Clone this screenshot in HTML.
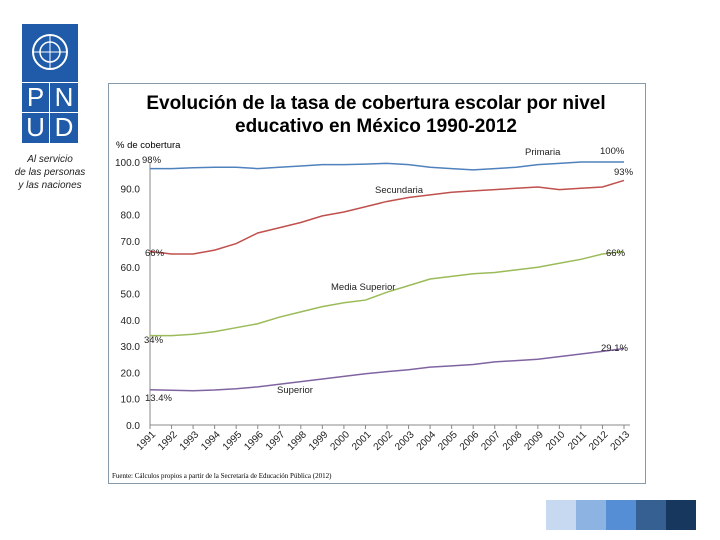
<!DOCTYPE html>
<html><head><meta charset="utf-8"><style>
body{margin:0;width:720px;height:540px;background:#fff;position:relative;overflow:hidden;font-family:"Liberation Sans",sans-serif}
.abs{position:absolute}
</style></head><body>
<div class="abs" style="left:22px;top:24px;width:56px;height:119px;background:#1f5ba8">
  <svg width="56" height="56"><circle cx="28" cy="28" r="17" fill="none" stroke="#fff" stroke-width="2"/><circle cx="28" cy="28" r="10" fill="none" stroke="#fff" stroke-width="1.5"/><line x1="11" y1="28" x2="45" y2="28" stroke="#fff"/><line x1="28" y1="11" x2="28" y2="45" stroke="#fff"/></svg>
  <div style="position:absolute;left:0;top:58px;width:56px;height:1px;background:#fff"></div>
  <div style="position:absolute;left:0;top:88px;width:56px;height:1px;background:#fff"></div>
  <div style="position:absolute;left:27px;top:58px;width:1px;height:61px;background:#fff"></div>
  <div style="position:absolute;left:0;top:59px;width:27px;text-align:center;color:#fff;font-size:26px;line-height:29px">P</div>
  <div style="position:absolute;left:28px;top:59px;width:28px;text-align:center;color:#fff;font-size:26px;line-height:29px">N</div>
  <div style="position:absolute;left:0;top:89px;width:27px;text-align:center;color:#fff;font-size:26px;line-height:29px">U</div>
  <div style="position:absolute;left:28px;top:89px;width:28px;text-align:center;color:#fff;font-size:26px;line-height:29px">D</div>
</div>
<div class="abs" style="left:5px;top:153px;width:90px;text-align:center;font-style:italic;font-size:10px;line-height:13px;color:#222">Al servicio<br>de las personas<br>y las naciones</div>

<svg class="abs" style="left:0;top:0" width="720" height="540" id="chart">
<rect x="108.5" y="83.5" width="537" height="400" fill="#fff" stroke="#8899aa"/>
<text x="376" y="109" text-anchor="middle" font-size="19" font-weight="bold">Evolución  de la tasa de cobertura  escolar  por nivel</text>
<text x="376" y="132" text-anchor="middle" font-size="19" font-weight="bold">educativo  en México  1990-2012</text>
<text x="116" y="148" font-size="9.5">% de cobertura</text>
<text x="112" y="478" font-size="7" font-family="Liberation Serif">Fuente: Cálculos propios a partir de la Secretaría de Educación Pública (2012)</text>
<g id="axes"></g><g id="series"></g><g id="labels"></g>
</svg>
<div class="abs" style="left:546px;top:500px;height:30px;display:flex">
<div style="width:30px;height:30px;background:#c6d9f1"></div><div style="width:30px;height:30px;background:#8db3e2"></div><div style="width:30px;height:30px;background:#558ed5"></div><div style="width:30px;height:30px;background:#366092"></div><div style="width:30px;height:30px;background:#17375e"></div>
</div>
<script>
const years=["1991","1992","1993","1994","1995","1996","1997","1998","1999","2000","2001","2002","2003","2004","2005","2006","2007","2008","2009","2010","2011","2012","2013"];
const yTicks=[0,10,20,30,40,50,60,70,80,90,100];
const primaria=[97.5,97.5,97.8,98,98,97.5,98,98.5,99,99,99.2,99.5,99,98,97.5,97,97.5,98,99,99.5,100,100,100];
const secundaria=[66,65,65,66.5,69,73,75,77,79.5,81,83,85,86.5,87.5,88.5,89,89.5,90,90.5,89.5,90,90.5,93];
const mediaSuperior=[34,34,34.5,35.5,37,38.5,41,43,45,46.5,47.5,50.5,53,55.5,56.5,57.5,58,59,60,61.5,63,65,66];
const superior=[13.4,13.2,13,13.3,13.8,14.5,15.5,16.5,17.5,18.5,19.5,20.3,21,22,22.5,23,24,24.5,25,26,27,28,29.1];
const NS="http://www.w3.org/2000/svg";
const x0=150,x1=624,y0=425,y100=162;
const xs=i=>x0+i*(x1-x0)/(years.length-1);
const ys=v=>y0+(y100-y0)*v/100;
function mk(t,a,p){const e=document.createElementNS(NS,t);for(const k in a)e.setAttribute(k,a[k]);document.getElementById(p).appendChild(e);return e;}
let e=mk('line',{x1:x0,y1:ys(0),x2:x1+6,y2:ys(0),stroke:'#888'},'axes');


e=mk('line',{x1:x0,y1:ys(0),x2:x0,y2:ys(100),stroke:'#888'},'axes');


yTicks.forEach(v=>{const t=mk('text',{x:x0-10,y:ys(v)+4,'text-anchor':'end','font-size':'10',fill:'#222'},'axes');t.textContent=v.toFixed(1);

});
years.forEach((y,i)=>{const x=xs(i);const t=mk('text',{x:x+6,y:ys(0)+10,'text-anchor':'end','font-size':'10',fill:'#222',transform:`rotate(-45 ${x+6} ${ys(0)+10})`},'axes');t.textContent=y;


mk('line',{x1:x,y1:ys(0),x2:x,y2:ys(0)+4,stroke:'#888'},'axes');});
function series(d,c,n){const p=mk('polyline',{points:d.map((v,i)=>xs(i)+','+ys(v)).join(' '),fill:'none',stroke:c,'stroke-width':'1.5'},'series');

}
series(primaria,'#4f81bd','primaria-line');
series(secundaria,'#c0504d','secundaria-line');
series(mediaSuperior,'#9bbb59','media-superior-line');
series(superior,'#8064a2','superior-line');
const labelText=["Primaria","Secundaria","Media Superior","Superior","98%","100%","66%","93%","34%","66%","13.4%","29.1%"];
const labelPos=[[525,155],[375,193],[331,290],[277,393],[142,163],[600,154],[145,256],[614,175],[144,343],[606,256],[145,401],[601,351]];
labelText.forEach((s,i)=>{const t=mk('text',{x:labelPos[i][0],y:labelPos[i][1],'font-size':'9.5',fill:'#222'},'labels');t.textContent=s;

});
</script>
</body></html>
